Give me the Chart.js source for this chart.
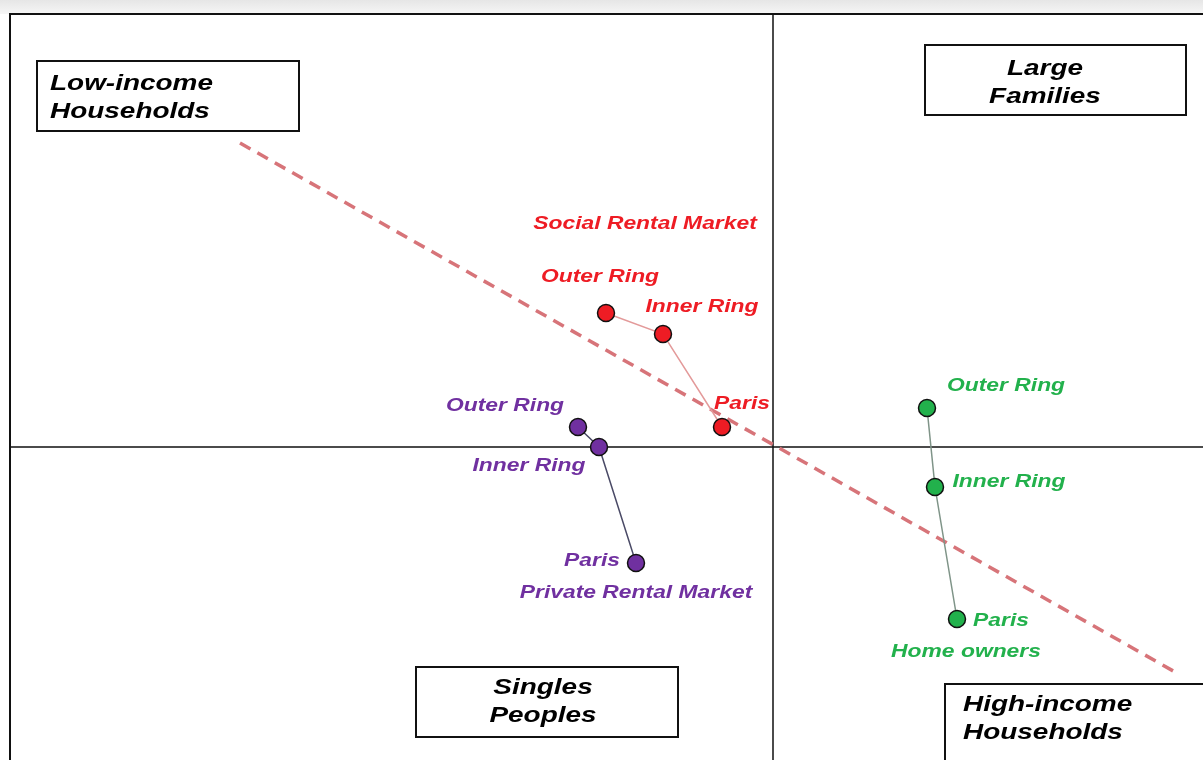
<!DOCTYPE html>
<html>
<head>
<meta charset="utf-8">
<script src="https://cdn.jsdelivr.net/npm/chart.js@4"></script>
<style>
  html, body { margin: 0; padding: 0; background: #fff; }
  canvas { display: block; }
</style>
</head>
<body>
<canvas id="mapChart" width="1203" height="760"></canvas>
<script>
// data (x: income axis, y: household size axis, origin = centre of the map)
const pointNames = ["Outer Ring", "Inner Ring", "Paris"];
const socialX = [-1.67, -1.10, -0.51];
const socialY = [1.34, 1.13, 0.20];
const privateX = [-1.95, -1.74, -1.37];
const privateY = [0.20, 0.00, -1.16];
const ownersX = [1.54, 1.62, 1.84];
const ownersY = [0.39, -0.40, -1.72];
const trendX = [-5.33, 4.02];
const trendY = [3.04, -2.25];
const groupNames = ["Social Rental Market", "Private Rental Market", "Home owners"];
const quadrantNames = [["Low-income", "Households"], ["Large", "Families"], ["Singles", "Peoples"], ["High-income", "Households"]];

const toPoints = (xs, ys) => xs.map((x, i) => ({ x: x, y: ys[i] }));

// label placement (pixel offsets from each point, group titles in axis units)
const labelOffsets = [
    [[-6, -36], [39, -27], [20, -23]],
    [[-73, -21], [-70, 19], [-44, -2]],
    [[79, -22], [74, -5], [44, 2]]
];
const groupPos = [[-1.28, 2.23], [-1.37, -1.46], [1.93, -2.05]];
const seriesColors = ["#ee1c24", "#7030a0", "#22b14c"];

function stretchedText(ctx, text, x, y, size, color, align) {
    ctx.save();
    ctx.font = "bold italic " + size + "px 'Liberation Sans', Arial, sans-serif";
    ctx.fillStyle = color;
    ctx.textBaseline = "middle";
    ctx.textAlign = align || "center";
    ctx.translate(x, y);
    ctx.scale(1.27, 1);
    ctx.fillText(text, 0, 0);
    ctx.restore();
}

const mapPlugin = {
    id: "mapPlugin",
    beforeDraw(chart) {
        const ctx = chart.ctx;
        const g = ctx.createLinearGradient(0, 0, 0, 14);
        g.addColorStop(0, "#e6e6e6");
        g.addColorStop(1, "#f6f6f6");
        ctx.save();
        ctx.fillStyle = g;
        ctx.fillRect(0, 0, chart.width, 14);
        ctx.restore();
    },
    beforeDatasetsDraw(chart) {
        const { ctx, chartArea: a, scales } = chart;
        const x0 = scales.x.getPixelForValue(0);
        const y0 = scales.y.getPixelForValue(0);
        ctx.save();
        ctx.strokeStyle = "#111";
        ctx.lineWidth = 2;
        ctx.beginPath();
        ctx.moveTo(a.left, a.bottom + 5);
        ctx.lineTo(a.left, a.top);
        ctx.lineTo(a.right + 5, a.top);
        ctx.stroke();
        ctx.lineWidth = 1.5;
        ctx.beginPath();
        ctx.moveTo(x0, a.top);
        ctx.lineTo(x0, a.bottom + 5);
        ctx.moveTo(a.left, y0);
        ctx.lineTo(a.right + 5, y0);
        ctx.stroke();
        ctx.restore();
    },
    afterDatasetsDraw(chart) {
        const ctx = chart.ctx;
        const sx = chart.scales.x, sy = chart.scales.y;
        for (let s = 0; s < 3; s++) {
            const meta = chart.getDatasetMeta(s);
            meta.data.forEach((pt, i) => {
                const off = labelOffsets[s][i];
                stretchedText(ctx, pointNames[i], pt.x + off[0], pt.y + off[1], 18, seriesColors[s]);
            });
            stretchedText(ctx, groupNames[s], sx.getPixelForValue(groupPos[s][0]),
                sy.getPixelForValue(groupPos[s][1]), 18, seriesColors[s]);
        }
        // quadrant boxes
        const boxes = [
            { x: 37, y: 61, w: 262, h: 70, align: "left", tx: 50, ty: 23 },
            { x: 925, y: 45, w: 261, h: 70, align: "center", tx: 1045, ty: 24 },
            { x: 416, y: 667, w: 262, h: 70, align: "center", tx: 543, ty: 21 },
            { x: 945, y: 684, w: 270, h: 80, align: "left", tx: 963, ty: 21 }
        ];
        boxes.forEach((b, i) => {
            ctx.save();
            ctx.fillStyle = "#fff";
            ctx.fillRect(b.x, b.y, b.w, b.h);
            ctx.strokeStyle = "#111";
            ctx.lineWidth = 2;
            ctx.strokeRect(b.x, b.y, b.w, b.h);
            ctx.restore();
            const firstY = b.y + b.ty;
            stretchedText(ctx, quadrantNames[i][0], b.tx, firstY, 22, "#000", b.align);
            stretchedText(ctx, quadrantNames[i][1], b.tx, firstY + 28, 22, "#000", b.align);
        });
    }
};

const series = (data, color, linkColor) => ({
    data: data,
    showLine: true,
    borderColor: linkColor,
    borderWidth: 1.5,
    pointRadius: 8.5,
    pointHoverRadius: 8.5,
    pointBackgroundColor: color,
    pointBorderColor: "#111",
    pointBorderWidth: 1.5,
    order: 1
});

new Chart(document.getElementById("mapChart").getContext("2d"), {
    type: "scatter",
    data: {
        datasets: [
            series(toPoints(socialX, socialY), seriesColors[0], "#e39a9a"),
            series(toPoints(privateX, privateY), seriesColors[1], "#4a4a66"),
            series(toPoints(ownersX, ownersY), seriesColors[2], "#7f9488"),
            {
                data: toPoints(trendX, trendY),
                showLine: true,
                borderColor: "#d77479",
                borderWidth: 3.5,
                borderDash: [12, 8],
                pointRadius: 0,
                order: 10
            }
        ]
    },
    options: {
        responsive: false,
        animation: false,
        layout: { autoPadding: false, padding: { left: 10, top: 14, right: 0, bottom: 0 } },
        plugins: { legend: { display: false }, tooltip: { enabled: false } },
        scales: {
            x: { type: "linear", min: -7.63, max: 4.30, display: false },
            y: { type: "linear", min: -3.13, max: 4.33, display: false }
        }
    },
    plugins: [mapPlugin]
});
</script>
</body>
</html>
